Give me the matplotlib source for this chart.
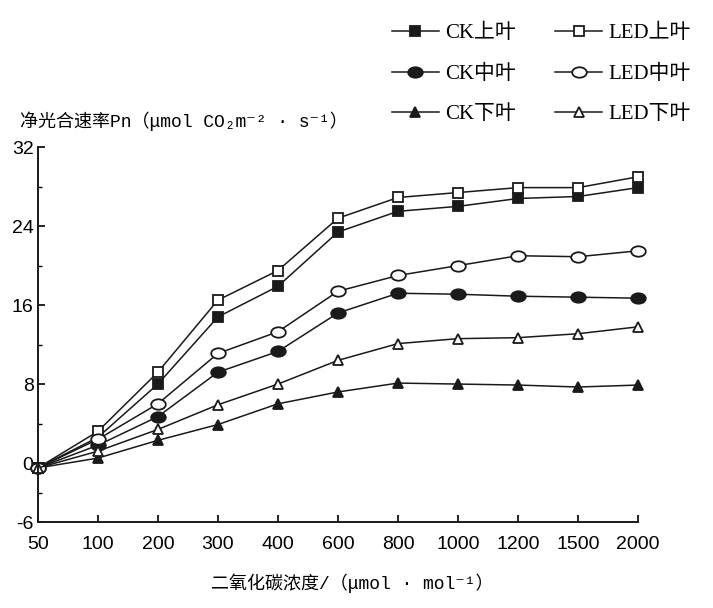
import numpy as np
import matplotlib
matplotlib.use("Agg")
import matplotlib.pyplot as plt
from matplotlib.markers import MarkerStyle
from matplotlib.transforms import Affine2D

plt.rcParams['font.family'] = ['Liberation Serif', 'Noto Sans CJK SC', 'DejaVu Sans']
plt.rcParams['axes.unicode_minus'] = False
mono = ['Liberation Mono', 'Noto Sans CJK SC', 'DejaVu Sans']

co2 = ['50', '100', '200', '300', '400', '600', '800', '1000', '1200', '1500', '2000']

ck_up = [-0.5, 2.6, 8.0, 14.8, 17.9, 23.4, 25.5, 26.0, 26.8, 27.0, 27.9]
ck_mid = [-0.5, 1.8, 4.7, 9.2, 11.3, 15.2, 17.2, 17.1, 16.9, 16.8, 16.7]
ck_low = [-0.5, 0.5, 2.3, 3.9, 6.0, 7.2, 8.1, 8.0, 7.9, 7.7, 7.9]
led_up = [-0.5, 3.2, 9.2, 16.5, 19.5, 24.8, 26.9, 27.4, 27.9, 27.9, 29.0]
led_mid = [-0.5, 2.4, 6.0, 11.1, 13.3, 17.4, 19.0, 20.0, 21.0, 20.9, 21.5]
led_low = [-0.5, 1.2, 3.4, 5.9, 8.0, 10.4, 12.1, 12.6, 12.7, 13.1, 13.8]

ellipse = MarkerStyle('o', transform=Affine2D().scale(1.4, 1.0))

fig = plt.figure(figsize=(7.13, 6.08), dpi=100)
ax = fig.add_axes([0.053, 0.141, 0.842, 0.617])

x = np.arange(len(co2))
lc = '#1a1a1a'
kw = dict(color=lc, lw=1.1, ms=7.5, clip_on=False, markeredgewidth=1.3)
series = [
    (ck_up, 's', lc, 'CK上叶'),
    (ck_mid, ellipse, lc, 'CK中叶'),
    (ck_low, '^', lc, 'CK下叶'),
    (led_up, 's', 'white', 'LED上叶'),
    (led_mid, ellipse, 'white', 'LED中叶'),
    (led_low, '^', 'white', 'LED下叶'),
]
handles = []
for vals, mk, fc, lab in series:
    h, = ax.plot(x, vals, marker=mk, markerfacecolor=fc, markeredgecolor=lc, label=lab, **kw)
    handles.append(h)

ax.set_xlim(0, 10)
ax.set_ylim(-6, 32)
ax.set_xticks(x)
ax.set_xticklabels(co2)
ax.set_yticks([-6, 0, 8, 16, 24, 32])
ax.set_yticks([-3, 4, 12, 20, 28], minor=True)
ax.tick_params(direction='in', labelsize=14, width=1.2, length=5, pad=3)
ax.tick_params(which='minor', direction='in', width=1.0, length=3)
ax.tick_params(axis='x', pad=10)
for lab in ax.get_xticklabels() + ax.get_yticklabels():
    lab.set_family(['Liberation Sans', 'DejaVu Sans'])
for s in ['top', 'right']:
    ax.spines[s].set_visible(False)
for s in ['left', 'bottom']:
    ax.spines[s].set_linewidth(1.4)
    ax.spines[s].set_color(lc)

fig.text(0.028, 0.80, '净光合速率Pn（μmol CO₂m⁻² · s⁻¹）', fontsize=13,
         ha='left', va='center', family=mono)
fig.text(0.494, 0.041, '二氧化碳浓度/（μmol · mol⁻¹）', fontsize=13,
         ha='center', va='center', family=mono)

fig.legend(handles=handles, loc='upper left', bbox_to_anchor=(0.535, 0.978), ncol=2,
           frameon=False, fontsize=15, labelspacing=1.0, columnspacing=1.9,
           handlelength=2.25, handletextpad=0.3, borderpad=0)

fig.savefig('out.png', dpi=100)
